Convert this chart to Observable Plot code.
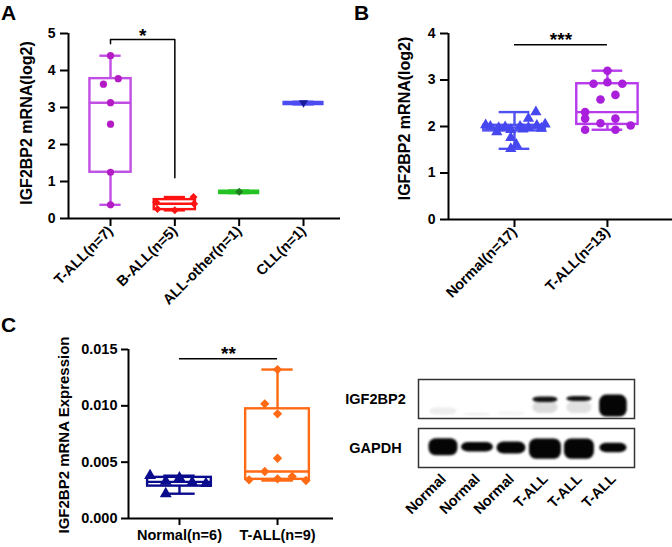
<!DOCTYPE html>
<html><head><meta charset="utf-8">
<script src="https://cdn.jsdelivr.net/npm/d3@7"></script>
<script src="https://cdn.jsdelivr.net/npm/@observablehq/plot@0.6"></script>
<style>
body{margin:0;background:#fff;}
#fig{position:relative;width:672px;height:547px;overflow:hidden;font-family:"Liberation Sans",Arial,sans-serif;}
.panel{position:absolute;}
.letter{position:absolute;font-weight:bold;font-size:21px;line-height:1;color:#000;}
</style></head><body><div id="fig"></div>
<script>
// ---------------- DATA ----------------
// Panel A
const groupsA = ["T-ALL(n=7)", "B-ALL(n=5)", "ALL-other(n=1)", "CLL(n=1)"];
const aTALL = [4.40, 3.78, 3.63, 3.13, 2.55, 1.25, 0.37];
const aTALLJitter = [0, 0.12, -0.11, 0, 0, 0, 0];
const aBALL = [0.58, 0.44, 0.40, 0.26, 0.22];
const aBALLJitter = [0.29, -0.29, 0.30, -0.27, 0];
const aOther = [0.72];
const aCLL = [3.12];
const yTicksA = [0, 1, 2, 3, 4, 5];
const sigA = {from: 0, to: 1, top: 4.84, leftEnd: 4.72, rightEnd: 1.1, label: "*"};

// Panel B
const groupsB = ["Normal(n=17)", "T-ALL(n=13)"];
const bNormal = [2.31, 2.17, 2.05, 2.03, 2.02, 2.00, 2.00, 1.99, 1.98, 1.97, 1.96, 1.88, 1.94, 1.93, 1.76, 1.61, 1.52];
const bNormalJitter = [0.23, 0.15, 0.33, -0.31, 0.24, -0.26, 0.06, -0.1, 0.15, -0.17, 0.29, -0.19, 0.09, -0.04, -0.04, 0.02, -0.04];
const bTALL = [3.20, 2.92, 2.95, 2.92, 2.58, 2.68, 2.31, 2.17, 2.07, 2.17, 2.02, 1.93, 1.93];
const bTALLJitter = [0, -0.15, 0, 0.16, -0.075, 0.086, -0.24, -0.24, -0.075, 0.086, 0.25, -0.24, 0.086];
const yTicksB = [0, 1, 2, 3, 4];
const sigB = {from: 0, to: 1, y: 3.76, label: "***"};

// Panel C
const groupsC = ["Normal(n=6)", "T-ALL(n=9)"];
const cNormal = [0.0038, 0.0036, 0.0033, 0.0032, 0.0031, 0.0022];
const cNormalJitter = [-0.3, 0, -0.14, 0.13, 0.27, -0.14];
const cTALL = [0.01322, 0.01018, 0.00929, 0.00535, 0.00417, 0.00343, 0.00352, 0.00373, 0.00337];
const cTALLJitter = [0, -0.13, 0, 0, -0.13, -0.29, 0, 0.15, 0.29];
const yTicksC = [0, 0.005, 0.010, 0.015];
const sigC = {from: 0, to: 1, y: 0.01418, label: "**"};

// Western blot (band signal)
const lanes = ["Normal", "Normal", "Normal", "T-ALL", "T-ALL", "T-ALL"];
const blotRows = ["IGF2BP2", "GAPDH"];
const gapdhSignal = [1, 1, 1, 1, 1, 1];
const gapdhWidth = [0.85, 0.94, 0.85, 0.94, 0.88, 0.8];
const gapdhThick = [0.44, 0.24, 0.31, 0.52, 0.52, 0.24];
const gapdhCenter = [0.48, 0.48, 0.5, 0.53, 0.53, 0.5];
const igfSignal = [0.07, 0.05, 0.04, 0.95, 0.95, 1];
const igfWidth = [0.8, 0.8, 0.8, 0.74, 0.74, 0.81];
const igfThick = [0.18, 0.08, 0.1, 0.14, 0.13, 0.56];
const igfCenter = [0.82, 0.9, 0.88, 0.52, 0.5, 0.68];
const igfSmear = [0, 0, 0, 0.14, 0.12, 0];

// ---------------- HELPERS ----------------
const FONT = '"Liberation Sans", Arial, Helvetica, sans-serif';
const STYLE = {background: "transparent", color: "black", fontFamily: FONT, overflow: "visible"};

function q6(arr, p) { // GraphPad Prism style quartiles
  const s = [...arr].sort((a, b) => a - b), n = s.length;
  const h = (n + 1) * p;
  if (h <= 1) return s[0];
  if (h >= n) return s[n - 1];
  const lo = Math.floor(h);
  return s[lo - 1] + (h - lo) * (s[lo] - s[lo - 1]);
}

const triDown = {
  draw(ctx, size) {
    const s = Math.sqrt(size) * 0.62;
    ctx.moveTo(-s, -s * 0.6);
    ctx.lineTo(s, -s * 0.6);
    ctx.lineTo(0, s);
    ctx.closePath();
  }
};

function groupMarks(g, i, bw, cw, sw) {
  const b = {x: i, min: d3.min(g.values), q1: q6(g.values, 0.25), med: q6(g.values, 0.5),
             q3: q6(g.values, 0.75), max: d3.max(g.values)};
  const pts = g.values.map((v, k) => ({x: i + g.jitter[k], y: v}));
  const st = {stroke: g.box, strokeWidth: g.values.length === 1 ? sw * 1.9 : sw};
  return [
    Plot.ruleX([b], {x: "x", y1: "q3", y2: "max", ...st}),
    Plot.ruleX([b], {x: "x", y1: "min", y2: "q1", ...st}),
    Plot.ruleY([b], {y: "max", x1: d => d.x - cw, x2: d => d.x + cw, ...st}),
    Plot.ruleY([b], {y: "min", x1: d => d.x - cw, x2: d => d.x + cw, ...st}),
    Plot.rect([b], {x1: d => d.x - bw, x2: d => d.x + bw, y1: "q1", y2: "q3", fill: "none", ...st}),
    Plot.ruleY([b], {y: "med", x1: d => d.x - bw, x2: d => d.x + bw, ...st}),
    Plot.dot(pts, {x: "x", y: "y", symbol: g.symbol, r: g.r, fill: g.dot, stroke: "none"})
  ];
}

function place(el, left, top) {
  const d = document.createElement("div");
  d.className = "panel";
  d.style.left = left + "px";
  d.style.top = top + "px";
  d.appendChild(el);
  document.getElementById("fig").appendChild(d);
}
function letter(t, left, top) {
  const d = document.createElement("div");
  d.className = "letter";
  d.style.left = left + "px";
  d.style.top = top + "px";
  d.textContent = t;
  document.getElementById("fig").appendChild(d);
}

// ---------------- PANEL A ----------------
{
  const groups = [
    {values: aTALL, jitter: aTALLJitter, box: "#C14FE4", dot: "#B31CC5", symbol: "circle", r: 3.6},
    {values: aBALL, jitter: aBALLJitter, box: "#FF1212", dot: "#FF1212", symbol: "diamond2", r: 3.6},
    {values: aOther, jitter: [0], box: "#22C322", dot: "#1E7E1E", symbol: "diamond2", r: 3.6},
    {values: aCLL, jitter: [0], box: "#4C4CF2", dot: "#1B1B9C", symbol: triDown, r: 4.2}
  ];
  const xmin = -0.653, xmax = 3.575;
  const bracket = [
    {x: sigA.from, y: sigA.leftEnd}, {x: sigA.from, y: sigA.top},
    {x: sigA.to, y: sigA.top}, {x: sigA.to, y: sigA.rightEnd}
  ];
  const p = Plot.plot({
    width: 340, height: 300,
    marginLeft: 68, marginRight: 0, marginTop: 33, marginBottom: 82,
    style: STYLE,
    x: {domain: [xmin, xmax], axis: null},
    y: {domain: [0, 5], axis: null},
    marks: [
      ...groups.flatMap((g, i) => groupMarks(g, i, 0.32, 0.165, 2.4)),
      Plot.line(bracket, {x: "x", y: "y", stroke: "black", strokeWidth: 1.5}),
      Plot.text([sigA.label], {x: (sigA.from + sigA.to) / 2, y: sigA.top, lineAnchor: "bottom", dy: 3, fontSize: 19, fontWeight: "bold"}),
      Plot.ruleX([xmin], {stroke: "black", strokeWidth: 2}),
      Plot.ruleY([0], {stroke: "black", strokeWidth: 2}),
      Plot.axisY({ticks: yTicksA, tickFormat: d3.format("d"), tickSize: 8, tickPadding: 5, strokeWidth: 2, fontSize: 14, fontWeight: "bold", label: null}),
      Plot.axisX({ticks: d3.range(groupsA.length), tickFormat: i => groupsA[i], tickRotate: -45, tickSize: 8, tickPadding: 2, strokeWidth: 2, fontSize: 14.5, fontWeight: "bold", label: null}),
      Plot.text(["IGF2BP2 mRNA(log2)"], {frameAnchor: "left", textAnchor: "middle", rotate: -90, dx: -42, dy: -3, fontSize: 16, fontWeight: "bold"})
    ]
  });
  place(p, 0, 0);
  letter("A", 1, 2);
}

// ---------------- PANEL B ----------------
{
  const groups = [
    {values: bNormal, jitter: bNormalJitter, box: "#5151F1", dot: "#4747F0", symbol: "triangle", r: 4.2},
    {values: bTALL, jitter: bTALLJitter, box: "#B73AEC", dot: "#A91FDC", symbol: "circle", r: 4.3}
  ];
  const xmin = -0.71, xmax = 1.70;
  const p = Plot.plot({
    width: 332, height: 300,
    marginLeft: 108, marginRight: 0, marginTop: 33, marginBottom: 81,
    style: STYLE,
    x: {domain: [xmin, xmax], axis: null},
    y: {domain: [0, 4], axis: null},
    marks: [
      ...groups.flatMap((g, i) => groupMarks(g, i, 0.33, 0.165, 2.4)),
      Plot.ruleY([sigB], {y: "y", x1: "from", x2: "to", stroke: "black", strokeWidth: 1.5}),
      Plot.text([sigB], {x: d => (d.from + d.to) / 2, y: "y", text: "label", lineAnchor: "bottom", dy: 1, fontSize: 19, fontWeight: "bold"}),
      Plot.ruleX([xmin], {stroke: "black", strokeWidth: 2}),
      Plot.ruleY([0], {stroke: "black", strokeWidth: 2}),
      Plot.axisY({ticks: yTicksB, tickFormat: d3.format("d"), tickSize: 8, tickPadding: 5, strokeWidth: 2, fontSize: 14, fontWeight: "bold", label: null}),
      Plot.axisX({ticks: d3.range(groupsB.length), tickFormat: i => groupsB[i], tickRotate: -45, tickSize: 8, tickPadding: 2, strokeWidth: 2, fontSize: 14.5, fontWeight: "bold", label: null}),
      Plot.text(["IGF2BP2 mRNA(log2)"], {frameAnchor: "left", textAnchor: "middle", rotate: -90, dx: -44, dy: -8, fontSize: 16, fontWeight: "bold"})
    ]
  });
  place(p, 340, 0);
  letter("B", 354, 2);
}

// ---------------- PANEL C ----------------
{
  const groups = [
    {values: cNormal, jitter: cNormalJitter, box: "#0B0B8E", dot: "#0B0B8E", symbol: "triangle", r: 4.4},
    {values: cTALL, jitter: cTALLJitter, box: "#FF6A14", dot: "#FF6A14", symbol: "diamond2", r: 4.2}
  ];
  const xmin = -0.52, xmax = 1.571;
  const p = Plot.plot({
    width: 340, height: 257,
    marginLeft: 128, marginRight: 7, marginTop: 59, marginBottom: 29,
    style: STYLE,
    x: {domain: [xmin, xmax], axis: null},
    y: {domain: [0, 0.015], axis: null},
    marks: [
      ...groups.flatMap((g, i) => groupMarks(g, i, 0.325, 0.16, 2.4)),
      Plot.ruleY([sigC], {y: "y", x1: "from", x2: "to", stroke: "black", strokeWidth: 1.5}),
      Plot.text([sigC], {x: d => (d.from + d.to) / 2, y: "y", text: "label", lineAnchor: "bottom", dy: 1, fontSize: 19, fontWeight: "bold"}),
      Plot.ruleX([xmin], {stroke: "black", strokeWidth: 2}),
      Plot.ruleY([0], {stroke: "black", strokeWidth: 2}),
      Plot.axisY({ticks: yTicksC, tickFormat: d3.format(".3f"), tickSize: 7, tickPadding: 4, strokeWidth: 2, fontSize: 14.5, fontWeight: "bold", label: null}),
      Plot.axisX({ticks: d3.range(groupsC.length), tickFormat: i => groupsC[i], tickSize: 7, tickPadding: 4, strokeWidth: 2, fontSize: 14.5, fontWeight: "bold", label: null}),
      Plot.text(["IGF2BP2 mRNA Expression"], {frameAnchor: "left", textAnchor: "middle", rotate: -90, dx: -64, dy: 1, fontSize: 15, fontWeight: "bold"})
    ]
  });
  place(p, 0, 290);
  letter("C", 1, 314);
}

// ---------------- WESTERN BLOT ----------------
{
  const bands = [];
  lanes.forEach((l, i) => {
    bands.push({row: "GAPDH", lane: i, w: gapdhWidth[i], c: gapdhCenter[i], t: gapdhThick[i], s: gapdhSignal[i]});
    bands.push({row: "IGF2BP2", lane: i, w: igfWidth[i], c: igfCenter[i], t: igfThick[i], s: igfSignal[i]});
    if (igfSmear[i] > 0) bands.push({row: "IGF2BP2", lane: i, w: igfWidth[i], c: 0.72, t: 0.3, s: igfSmear[i]});
  });
  const p = Plot.plot({
    width: 332, height: 177,
    marginLeft: 78, marginRight: 38, marginTop: 9, marginBottom: 79,
    style: STYLE,
    x: {domain: [-0.735, 5.62], axis: null},
    y: {domain: [0, 1], reverse: true, axis: null},
    fy: {domain: blotRows, paddingInner: 0.2, paddingOuter: 0, axis: null},
    opacity: {domain: [0, 1], range: [0, 1]},
    marks: [
      Plot.frame({fill: "white"}),
      Plot.rect(bands, {fy: "row", x1: d => d.lane - d.w / 2, x2: d => d.lane + d.w / 2,
        y1: d => d.c - d.t / 2, y2: d => d.c + d.t / 2, fill: "#050505", fillOpacity: "s", rx: 7, imageFilter: "blur(1.3px)"}),
      Plot.frame({stroke: "#333", strokeWidth: 1.5}),
      Plot.axisFy({anchor: "left", tickSize: 0, tickPadding: 43, textAnchor: "middle", fontSize: 14.5, fontWeight: "bold", label: null}),
      Plot.axisX({ticks: d3.range(lanes.length), tickFormat: i => lanes[i], tickRotate: -45, tickSize: 0, tickPadding: 9, fontSize: 14.5, fontWeight: "bold", label: null})
    ]
  });
  place(p, 340, 370);
}
</script></body></html>
